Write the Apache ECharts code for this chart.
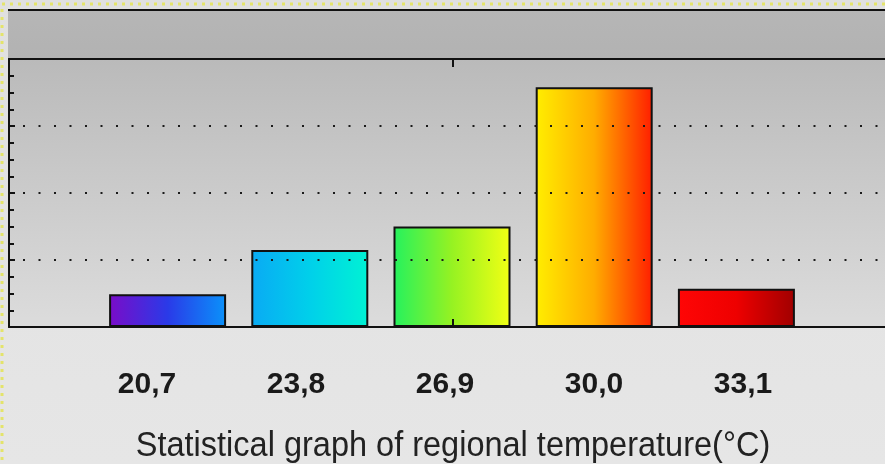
<!DOCTYPE html>
<html><head><meta charset="utf-8">
<script src="https://cdn.jsdelivr.net/npm/echarts@6/dist/echarts.min.js"></script>
<style>html,body{margin:0;padding:0;background:#e2e2e2}#c{width:885px;height:464px}</style>
</head><body><div id="c"></div>
<script>
const categories = ['20,7', '23,8', '26,9', '30,0', '33,1'];
const values = [0.49, 1.15, 1.5, 3.58, 0.57];
const yTicks = [0, 1, 2, 3, 4];
const titleText = 'Statistical graph of regional temperature(°C)';
const barGradients = [
  ['#7a0cc8', '#2a3ae8', '#0a92fa'],
  ['#0aaaf4', '#00d0ea', '#00f2d4'],
  ['#24f25e', '#96f222', '#f2ff14'],
  ['#ffee00', '#ffac00', '#ff1e00'],
  ['#ff0606', '#ee0000', '#a00000']
];

const chart = echarts.init(document.getElementById('c'), null, {renderer: 'canvas'});
const T = 59, H = 268;
const FONT = '"Liberation Sans", Arial, sans-serif';
function lg(c){return {type:'linear',x:0,y:0,x2:1,y2:0,colorStops:[{offset:0,color:c[0]},{offset:0.5,color:c[1]},{offset:1,color:c[2]}]};}
chart.setOption({
  animation: false,
  backgroundColor: {type:'linear',x:0,y:0,x2:0,y2:1,colorStops:[{offset:0,color:'#e0e0e0'},{offset:1,color:'#e6e6e6'}]},
  graphic: [
    {type:'rect', z:-10, shape:{x:8,y:10,width:880,height:49}, style:{fill:{type:'linear',x:0,y:0,x2:0,y2:1,colorStops:[{offset:0,color:'#b6b6b6'},{offset:1,color:'#b2b2b2'}]}}},
    {type:'rect', z:-10, shape:{x:9,y:T,width:880,height:H}, style:{fill:{type:'linear',x:0,y:0,x2:0,y2:1,colorStops:[{offset:0,color:'#bababa'},{offset:1,color:'#dcdcdc'}]}}},
    {type:'line', z:5, shape:{x1:8,y1:10,x2:885,y2:10}, style:{stroke:'#111',lineWidth:2}},
    {type:'rect', z:5, shape:{x:2,y:4,width:900,height:500}, style:{fill:'none',stroke:'#e4e46a',lineWidth:3,lineDash:[3,5]}},
    {type:'text', z:5, x:453, y:446, scaleY:1.08, style:{text:titleText, font:'32.5px ' + FONT, fill:'#222', textAlign:'center', textVerticalAlign:'middle'}}
  ],
  grid: [
    {left:9, top:T, right:0, height:H},
    {left:96.5, top:T, width:711, height:H},
    {left:72.5, top:T, width:745, height:H}
  ],
  xAxis: [
    {gridIndex:0, type:'value', min:0, max:1.973, interval:1, position:'bottom', z:10,
     axisLine:{show:true,lineStyle:{color:'#111',width:2}}, axisTick:{show:true,inside:true,length:8,customValues:[1],lineStyle:{color:'#111',width:2}},
     axisLabel:{show:false}, splitLine:{show:false}},
    {gridIndex:0, type:'value', min:0, max:1.973, interval:1, position:'top', z:10,
     axisLine:{show:true,lineStyle:{color:'#111',width:2}}, axisTick:{show:true,inside:true,length:8,customValues:[1],lineStyle:{color:'#111',width:2}},
     axisLabel:{show:false}, splitLine:{show:false}},
    {gridIndex:1, type:'category', data:categories, show:false},
    {gridIndex:2, type:'category', data:categories, axisLine:{show:false}, axisTick:{show:false},
     axisLabel:{show:true, margin:43, color:'#1a1a1a', fontWeight:'bold', fontSize:30, fontFamily:FONT}}
  ],
  yAxis: [
    {gridIndex:0, type:'value', min:0, max:4, interval:1, z:10,
     axisLine:{show:true,lineStyle:{color:'#111',width:2}},
     axisTick:{show:true,inside:true,length:6,lineStyle:{color:'#111',width:2}},
     minorTick:{show:true,splitNumber:4,length:5,lineStyle:{color:'#111',width:2}},
     axisLabel:{show:false},
     splitLine:{show:true,lineStyle:{color:'#1a1a1a',width:2,type:[2,13.5],dashOffset:-14}}},
    {gridIndex:1, type:'value', min:0, max:4, interval:1, show:false, splitLine:{show:false}},
    {gridIndex:2, type:'value', min:0, max:4, interval:1, show:false, splitLine:{show:false}}
  ],
  series: [{
    type:'bar', xAxisIndex:2, yAxisIndex:1, barWidth:117, z:3,
    data: values.map((v,i)=>({value:v, itemStyle:{color:lg(barGradients[i]), borderColor:'#111', borderWidth:2}}))
  }]
});
</script></body></html>
